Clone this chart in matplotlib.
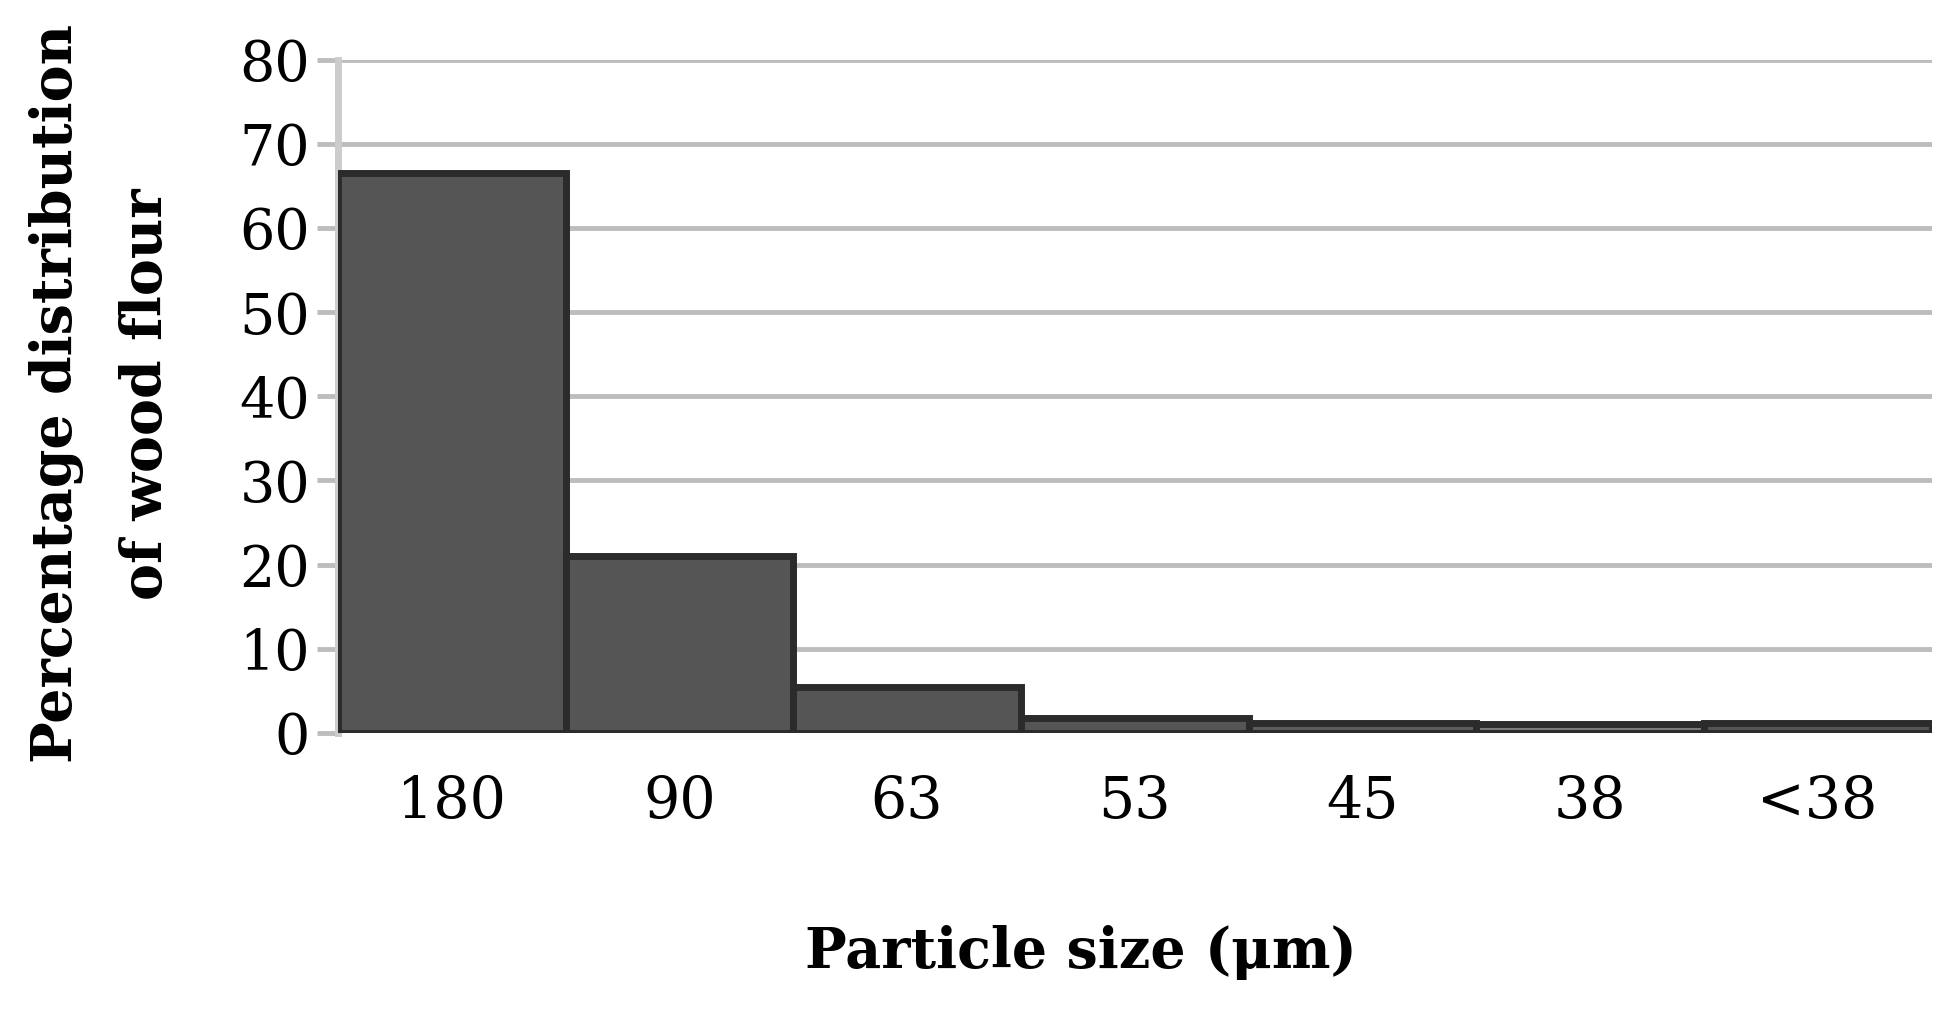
import numpy as np
import matplotlib.pyplot as plt

# particle size classes and share of wood flour (%)
sizes = ['180', '90', '63', '53', '45', '38', '<38']
percent = [66.5, 21.0, 5.5, 1.8, 1.2, 1.0, 1.2]
bar_colors = ['#555555', '#555555', '#555555', '#555555', '#5c5c5c', '#7a7a7a', '#555555']
yticks = [0, 10, 20, 30, 40, 50, 60, 70, 80]

plt.rcParams['font.family'] = ['DejaVu Serif']

fig = plt.figure(figsize=(19.53, 10.15), dpi=100)
ax = fig.add_axes([0.173, 0.278, 0.816, 0.663])

x = np.arange(len(sizes))
ax.bar(x, percent, width=1.0, color=bar_colors, edgecolor='#2b2b2b', linewidth=5, zorder=3)

ax.set_xlim(-0.5, len(sizes) - 0.5)
ax.set_ylim(0, 80)
ax.set_yticks(yticks)
ax.set_xticks(x)
ax.set_xticklabels(sizes)

ax.grid(axis='y', color='#bdbdbd', linewidth=3.5, zorder=0)
ax.set_axisbelow(True)
for s in ['top', 'right', 'bottom']:
    ax.spines[s].set_visible(False)
ax.spines['left'].set_color('#cccccc')
ax.spines['left'].set_linewidth(5)

ax.tick_params(axis='y', length=15, width=3.5, color='#bdbdbd', pad=5, labelsize=40)
ax.tick_params(axis='x', length=0, pad=30, labelsize=41)

ax.set_xlabel('Particle size (μm)', fontsize=40, fontweight='bold')
ax.xaxis.set_label_coords(0.466, -0.285)

fig.text(0.052, 0.612, 'Percentage distribution\nof wood flour', rotation=90,
         ha='center', va='center', multialignment='center', linespacing=1.8,
         fontsize=40, fontweight='bold')

fig.savefig('out.png', dpi=100)
